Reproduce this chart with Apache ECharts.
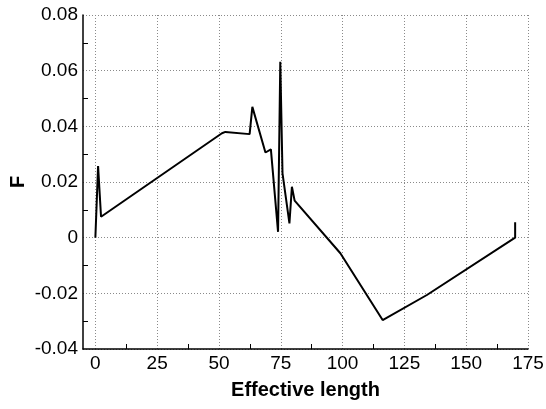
<!DOCTYPE html>
<html>
<head>
<meta charset="utf-8">
<script src="https://cdn.jsdelivr.net/npm/echarts@6/dist/echarts.min.js"></script>
<style>
  html, body { margin: 0; padding: 0; background: #fff; }
  #chart { width: 546px; height: 409px; }
</style>
</head>
<body>
<div id="chart"></div>
<script>
// Profile of F along the effective length
const effLength = [0, 1.1, 2.3, 51.2, 52.6, 62.4, 63.5, 68.8, 71.0, 73.9, 74.8, 75.7, 78.5, 79.5, 80.6, 99.1, 116.2, 134.1, 169.8, 169.8];
const fValues  = [0, 0.0257, 0.0075, 0.0375, 0.038, 0.0372, 0.047, 0.0306, 0.0317, 0.0021, 0.0632, 0.0231, 0.0051, 0.0183, 0.0133, -0.0056, -0.0296, -0.0206, 0, 0.0055];

// Axis ticks
const xMajorTicks = [0, 25, 50, 75, 100, 125, 150, 175];
const xMinorTicks = [12.5, 37.5, 62.5, 87.5, 112.5, 137.5, 162.5];
const yTickLabels = ['-0.04', '-0.02', '0', '0.02', '0.04', '0.06', '0.08'];

const xRange = [-5, 175];
const yRange = [-0.04, 0.08];

const labelFont = { fontFamily: 'Liberation Sans, Arial, sans-serif', fontSize: 19, color: '#000' };
const gridDots = { show: true, lineStyle: { color: '#8a8a8a', width: 1, type: [1, 2] } };

const chart = echarts.init(document.getElementById('chart'), null, { renderer: 'canvas' });

chart.setOption({
  animation: false,
  backgroundColor: '#fff',
  grid: { left: 83, right: 18, top: 15, bottom: 60, containLabel: false, outerBoundsMode: 'none' },
  xAxis: [
    {
      type: 'value',
      min: xRange[0],
      max: xRange[1],
      name: 'Effective length',
      nameLocation: 'middle',
      nameGap: 31,
      nameTextStyle: { fontFamily: 'Liberation Sans, Arial, sans-serif', fontSize: 20, fontWeight: 'bold', color: '#000' },
      axisLine: { show: true, onZero: false, lineStyle: { color: '#000', width: 1.5 } },
      axisTick: { show: false, customValues: xMajorTicks },
      axisLabel: Object.assign({ customValues: xMajorTicks, margin: 5, formatter: v => String(v) }, labelFont),
      splitLine: gridDots
    },
    {
      // short inward ticks half-way between the labelled values
      type: 'value',
      position: 'bottom',
      min: xRange[0],
      max: xRange[1],
      axisLine: { show: false, onZero: false },
      axisTick: { show: true, inside: true, length: 5, customValues: xMinorTicks, lineStyle: { color: '#000', width: 1 } },
      axisLabel: { show: false },
      splitLine: { show: false }
    }
  ],
  yAxis: {
    type: 'value',
    min: yRange[0],
    max: yRange[1],
    interval: 0.02,
    name: 'F',
    nameLocation: 'middle',
    nameGap: 55,
    nameMoveOverlap: false,
    nameTextStyle: { fontFamily: 'Liberation Sans, Arial, sans-serif', fontSize: 20, fontWeight: 'bold', color: '#000' },
    axisLine: { show: true, onZero: false, lineStyle: { color: '#000', width: 1.5 } },
    axisTick: { show: false, inside: true },
    minorTick: { show: true, splitNumber: 2, length: 5, lineStyle: { color: '#000', width: 1 } },
    axisLabel: Object.assign({
      margin: 5,
      formatter: v => yTickLabels[Math.round((v - yRange[0]) / 0.02)]
    }, labelFont),
    splitLine: gridDots
  },
  series: [{
    type: 'line',
    xAxisIndex: 0,
    showSymbol: false,
    symbol: 'none',
    lineStyle: { color: '#000', width: 2 },
    data: effLength.map((x, i) => [x, fValues[i]])
  }]
});
</script>
</body>
</html>
